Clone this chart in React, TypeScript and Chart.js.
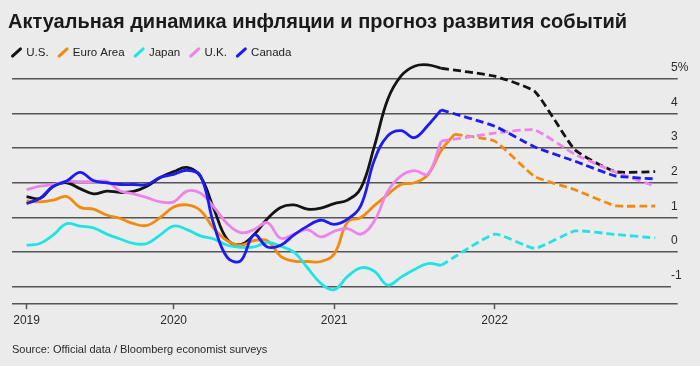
import React, { useEffect, useRef } from 'react';
import { Chart, registerables } from 'chart.js';

Chart.register(...registerables);

const TITLE = 'Актуальная динамика инфляции и прогноз развития событий';
const SOURCE = 'Source: Official data / Bloomberg economist surveys';

// Monthly observations (plotted at month end)
const months = [
  '2019-01', '2019-02', '2019-03', '2019-04', '2019-05', '2019-06', '2019-07', '2019-08', '2019-09', '2019-10', '2019-11', '2019-12',
  '2020-01', '2020-02', '2020-03', '2020-04', '2020-05', '2020-06', '2020-07', '2020-08', '2020-09', '2020-10', '2020-11', '2020-12',
  '2021-01', '2021-02', '2021-03', '2021-04', '2021-05', '2021-06', '2021-07', '2021-08', '2021-09',
];

const usActual = [1.6, 1.55, 1.9, 2.0, 1.83, 1.68, 1.76, 1.72, 1.75, 1.9, 2.15, 2.32, 2.44, 2.18, 1.25, 0.37, 0.22, 0.5, 0.96, 1.29, 1.36, 1.24, 1.27, 1.4, 1.5, 1.85, 3.05, 4.4, 5.08, 5.36, 5.4, 5.3];
const euroActual = [1.48, 1.45, 1.5, 1.6, 1.29, 1.24, 1.07, 0.97, 0.82, 0.77, 1.0, 1.3, 1.36, 1.2, 0.68, 0.33, 0.2, 0.33, 0.33, -0.12, -0.26, -0.27, -0.27, -0.05, 0.87, 1.0, 1.34, 1.66, 1.95, 2.0, 2.23, 2.93, 3.4];
const japanActual = [0.2, 0.25, 0.5, 0.82, 0.75, 0.7, 0.52, 0.38, 0.25, 0.25, 0.5, 0.75, 0.65, 0.47, 0.38, 0.2, 0.14, 0.15, 0.28, 0.17, 0.0, -0.45, -0.9, -1.08, -0.7, -0.45, -0.55, -0.95, -0.72, -0.5, -0.33, -0.38];
const ukActual = [1.8, 1.9, 1.95, 2.04, 2.03, 2.03, 2.04, 1.76, 1.68, 1.57, 1.45, 1.45, 1.76, 1.7, 1.3, 0.82, 0.56, 0.65, 0.85, 0.4, 0.52, 0.65, 0.44, 0.6, 0.68, 0.52, 0.9, 1.75, 2.2, 2.35, 2.25, 3.2];
const canadaActual = [1.4, 1.55, 1.9, 2.05, 2.3, 2.06, 2.0, 1.95, 1.95, 1.95, 2.16, 2.24, 2.36, 2.2, 0.8, -0.15, -0.25, 0.5, 0.15, 0.2, 0.5, 0.75, 0.92, 0.8, 0.95, 1.35, 2.65, 3.35, 3.5, 3.3, 3.65, 4.1];

// Bloomberg economist survey forecasts
const forecastDates = [2022.0, 2022.25, 2022.5, 2022.75, 2023.0];
const usForecast = [5.07, 4.63, 2.95, 2.32, 2.32];
const euroForecast = [3.2, 2.18, 1.8, 1.34, 1.33];
const japanForecast = [0.52, 0.11, 0.61, 0.51, 0.41];
const ukForecast = [3.43, 3.52, 2.82, 2.31, 1.9];
const canadaForecast = [3.63, 3.03, 2.62, 2.2, 2.11];

const countryLabels = ['U.S.', 'Euro Area', 'Japan', 'U.K.', 'Canada'];
const countryColors = ['#141414', '#f28a10', '#22e3e3', '#ec84ec', '#1c1cf2'];

const xTickValues = [2019.0833, 2020, 2021, 2022];
const xTickLabels = ['2019', '2020', '2021', '2022'];
const yTickValues = [-1.5, -1, 0, 1, 2, 3, 4, 5];
const yTickLabels = ['', '-1', '0', '1', '2', '3', '4', '5%'];

const monthToYear = (m: string) => {
  const [y, mm] = m.split('-').map(Number);
  return y + mm / 12;
};

const shiftPlugin = {
  id: 'shiftBoxes',
  afterLayout(chart: any) {
    if (chart.legend) {
      chart.legend.left -= 10;
      chart.legend.right -= 10;
    }
    if (chart.titleBlock) {
      chart.titleBlock.left -= 4;
      chart.titleBlock.right -= 4;
    }
  },
};

export default function App() {
  const ref = useRef<HTMLCanvasElement | null>(null);

  useEffect(() => {
    document.body.style.margin = '0';
    document.body.style.background = '#ebebeb';
    Chart.defaults.font.family = "'Liberation Sans', Arial, sans-serif";

    const actuals = [usActual, euroActual, japanActual, ukActual, canadaActual];
    const forecasts = [usForecast, euroForecast, japanForecast, ukForecast, canadaForecast];
    const drawOrder = [4, 3, 2, 1, 0];

    const datasets: any[] = [];
    actuals.forEach((vals, i) => {
      const pts = vals.map((v, k) => ({ x: monthToYear(months[k]), y: v }));
      datasets.push({
        label: countryLabels[i],
        data: pts,
        borderColor: countryColors[i],
        backgroundColor: countryColors[i],
        borderWidth: 2.8,
        tension: 0.4,
        pointRadius: 0,
        clip: false,
        order: drawOrder[i],
        borderJoinStyle: 'round',
      });
      const last = pts[pts.length - 1];
      datasets.push({
        label: countryLabels[i] + ' forecast',
        data: [last, ...forecasts[i].map((v, k) => ({ x: forecastDates[k], y: v }))],
        borderColor: countryColors[i],
        backgroundColor: countryColors[i],
        borderWidth: 2.8,
        borderDash: [8, 4],
        tension: 0.15,
        pointRadius: 0,
        clip: false,
        order: drawOrder[i],
      });
    });

    const chart = new Chart(ref.current as HTMLCanvasElement, {
      type: 'line',
      data: { datasets },
      plugins: [shiftPlugin],
      options: {
        responsive: false,
        animation: false,
        events: [],
        layout: { padding: { left: 12, right: 0, top: 0, bottom: 0 } },
        plugins: {
          tooltip: { enabled: false },
          title: {
            display: true,
            text: TITLE,
            align: 'start',
            color: '#1a1a1a',
            font: { size: 20, weight: 'bold' },
            padding: { top: 10, bottom: 2.25 },
          },
          subtitle: {
            display: true,
            text: SOURCE,
            position: 'bottom',
            align: 'start',
            color: '#2a2a2a',
            font: { size: 11 },
            padding: { top: 10.8, bottom: 9.4 },
          },
          legend: {
            display: true,
            position: 'top',
            align: 'start',
            labels: {
              usePointStyle: true,
              pointStyleWidth: 8,
              boxHeight: 6,
              padding: 10.5,
              color: '#222',
              font: { size: 11.5 },
              generateLabels: () =>
                countryLabels.map((t, i) => ({
                  text: t,
                  fillStyle: countryColors[i],
                  strokeStyle: countryColors[i],
                  lineWidth: 3,
                  lineCap: 'round',
                  pointStyle: 'line',
                  rotation: -58,
                  fontColor: '#222',
                  hidden: false,
                  datasetIndex: i * 2,
                })) as any,
            },
          },
        },
        scales: {
          x: {
            type: 'linear',
            min: 2018.9925,
            max: 2023.0985,
            afterBuildTicks: (scale: any) => {
              scale.ticks = xTickValues.map((v) => ({ value: v }));
            },
            ticks: {
              autoSkip: false,
              maxRotation: 0,
              padding: 4.5,
              color: '#2a2a2a',
              font: { size: 12 },
              callback: (value: any) => {
                const idx = xTickValues.indexOf(Number(value));
                return idx >= 0 ? xTickLabels[idx] : '';
              },
            },
            grid: {
              drawOnChartArea: false,
              drawTicks: true,
              tickLength: 5,
              tickColor: '#555',
              tickWidth: 1.5,
            },
            border: { display: false },
          },
          y: {
            type: 'linear',
            position: 'right',
            min: -1.5,
            max: 5.3,
            afterBuildTicks: (scale: any) => {
              scale.ticks = yTickValues.map((v) => ({ value: v }));
            },
            afterFit: (scale: any) => {
              scale.width = 29;
            },
            ticks: {
              padding: -6.7,
              labelOffset: -11,
              color: '#2a2a2a',
              font: { size: 12 },
              callback: (value: any) => {
                const idx = yTickValues.indexOf(Number(value));
                return idx >= 0 ? yTickLabels[idx] : '';
              },
            },
            grid: {
              color: '#555',
              lineWidth: 1.5,
              drawTicks: true,
              tickLength: 6.7,
              tickWidth: 1.5,
              tickColor: (ctx: any) => (ctx.tick && ctx.tick.value === -1 ? 'rgba(0,0,0,0)' : '#555'),
            },
            border: { display: false },
          },
        },
      },
    });
    return () => chart.destroy();
  }, []);

  return (
    <div style={{ width: 700, height: 366, background: '#ebebeb' }}>
      <canvas ref={ref} width={700} height={366} style={{ display: 'block' }} />
    </div>
  );
}
